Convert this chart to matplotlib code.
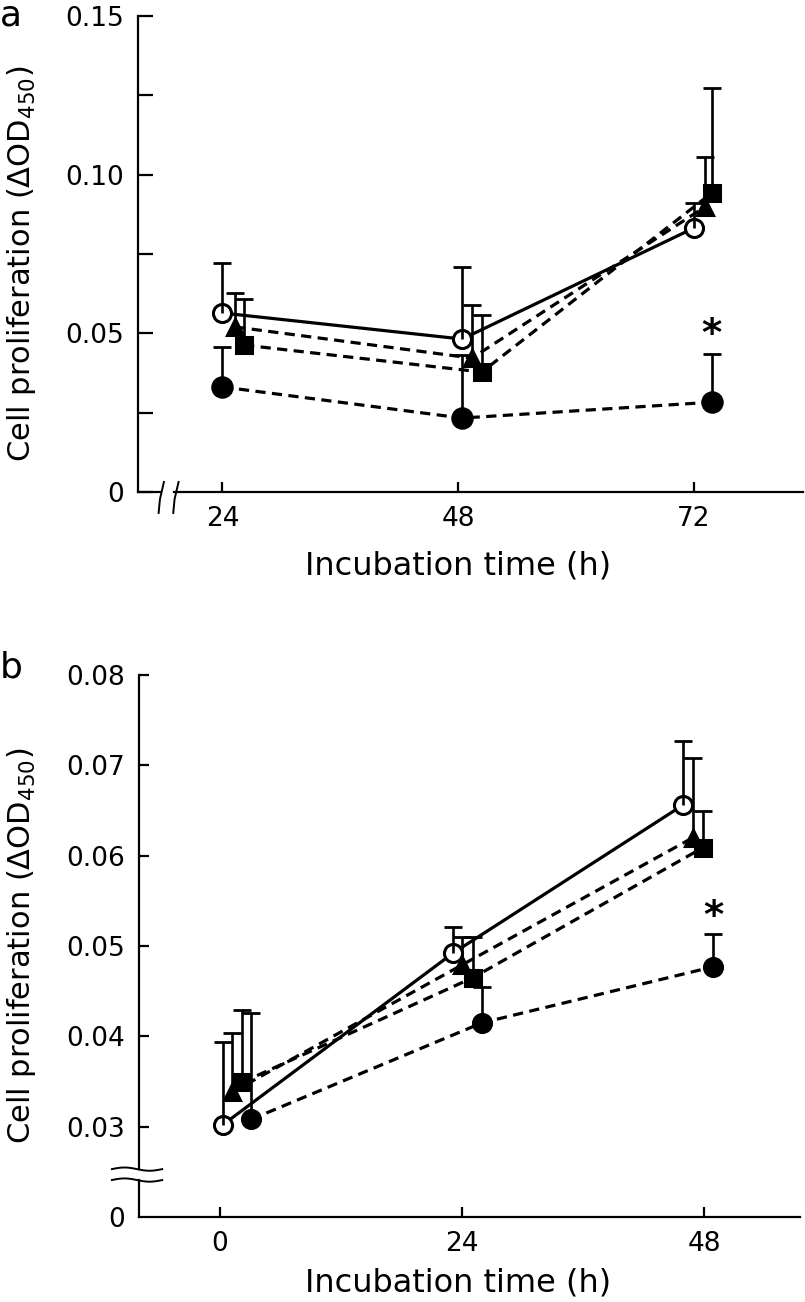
import matplotlib
matplotlib.use("Agg")
import matplotlib.pyplot as plt
import numpy as np

# --- data (mean, upper SD) ---
# panel a: 24 / 48 / 72 h
time_a = [24, 48, 72]
open_a = [0.0564, 0.0482, 0.0832]
open_a_err = [0.0157, 0.0227, 0.0078]
tri_a = [0.0520, 0.0422, 0.0898]
tri_a_err = [0.0107, 0.0167, 0.0157]
sq_a = [0.0463, 0.0378, 0.0942]
sq_a_err = [0.0145, 0.0180, 0.0330]
dot_a = [0.0331, 0.0233, 0.0283]
dot_a_err = [0.0126, 0.0200, 0.0152]

# panel b: 0 / 24 / 48 h
time_b = [0, 24, 48]
open_b = [0.0302, 0.0492, 0.0656]
open_b_err = [0.0092, 0.0029, 0.0071]
tri_b = [0.0338, 0.0479, 0.0620]
tri_b_err = [0.0066, 0.0031, 0.0088]
sq_b = [0.0349, 0.0465, 0.0609]
sq_b_err = [0.0080, 0.0045, 0.0041]
dot_b = [0.0308, 0.0415, 0.0477]
dot_b_err = [0.0118, 0.0040, 0.0036]

# horizontal nudges (h) so the symbols do not sit on top of each other
nudge_a = {"open": [0, 0.4, 0], "tri": [1.3, 1.4, 1.1],
           "sq": [2.2, 2.4, 1.8], "dot": [0, 0.4, 1.8]}
nudge_b = {"open": [0.3, -0.9, -2.1], "tri": [1.2, 0, -1.1],
           "sq": [2.2, 1.1, -0.1], "dot": [3.1, 2.0, 0.9]}

plt.rcParams['font.family'] = ['DejaVu Sans']
W, H = 805, 1302
fig = plt.figure(figsize=(W / 100, H / 100), dpi=100)

LW = 2.3
DASH = (0, (3.2, 2.0))
TICK_FS = 19
XLABEL_FS = 23
YLABEL_FS = 22


def draw_series(ax, t, nudge, y, err, marker, face, ls, ms):
    x = np.array(t, dtype=float) + np.array(nudge)
    ax.plot(x, y, color='k', lw=LW, linestyle=ls, zorder=2)
    ax.plot(x, y, ls='none', marker=marker, mfc=face, mec='k', mew=2.2, ms=ms, zorder=3)
    eb = ax.errorbar(x, y, yerr=[np.zeros(len(y)), err], fmt='none', ecolor='k',
                     elinewidth=1.9, capsize=6.5, capthick=2.0, zorder=4)
    eb[1][0].set_visible(False)
    return x


def style_axes(ax):
    for s in ['top', 'right']:
        ax.spines[s].set_visible(False)
    for s in ['left', 'bottom']:
        ax.spines[s].set_linewidth(1.6)
    ax.tick_params(axis='both', which='both', direction='in', width=1.6,
                   labelsize=TICK_FS, pad=10)


# ---------------- panel a ----------------
ax1 = fig.add_axes([138 / W, 1 - 492 / H, 665 / W, 476 / H])
style_axes(ax1)
draw_series(ax1, time_a, nudge_a["open"], open_a, open_a_err, 'o', 'white', '-', 13)
draw_series(ax1, time_a, nudge_a["tri"], tri_a, tri_a_err, '^', 'black', DASH, 12)
draw_series(ax1, time_a, nudge_a["sq"], sq_a, sq_a_err, 's', 'black', DASH, 11)
xd = draw_series(ax1, time_a, nudge_a["dot"], dot_a, dot_a_err, 'o', 'black', DASH, 14)
ax1.text(xd[2], 0.0495, '*', ha='center', va='center', fontsize=28, fontweight='bold')

ax1.set_xlim(15.4, 83.1)
ax1.set_ylim(0, 0.15)
ax1.set_xticks(time_a)
ax1.set_yticks([0, 0.05, 0.10, 0.15])
ax1.set_yticklabels(['0', '0.05', '0.10', '0.15'])
ax1.set_yticks([0.025, 0.075, 0.125], minor=True)
ax1.tick_params(axis='y', which='both', length=11)
ax1.tick_params(axis='x', length=7)
# broken x axis near the origin
ax1.spines['bottom'].set_visible(False)
xt = ax1.transAxes
ax1.plot([0, 0.035], [0, 0], color='k', lw=1.6, transform=xt, clip_on=False)
ax1.plot([0.054, 1], [0, 0], color='k', lw=1.6, transform=xt, clip_on=False)
for x0 in (0.031, 0.053):
    ax1.plot([x0 + 0.008, x0 + 0.002, x0], [0.021, -0.015, -0.044], color='k', lw=1.4,
             transform=xt, clip_on=False)

fig.text(458 / W, 1 - 566 / H, 'Incubation time (h)', ha='center', va='center', fontsize=XLABEL_FS)
fig.text(22 / W, 1 - 264 / H, r'Cell proliferation ($\Delta$OD$_{450}$)', rotation=90,
         ha='center', va='center', fontsize=YLABEL_FS)
fig.text(0, 1 - 25 / H, 'a', ha='left', va='baseline', fontsize=26)

# ---------------- panel b ----------------
ax2 = fig.add_axes([139 / W, 1 - 1217 / H, 661 / W, 542 / H])
style_axes(ax2)
draw_series(ax2, time_b, nudge_b["open"], open_b, open_b_err, 'o', 'white', '-', 13)
draw_series(ax2, time_b, nudge_b["tri"], tri_b, tri_b_err, '^', 'black', DASH, 11)
draw_series(ax2, time_b, nudge_b["sq"], sq_b, sq_b_err, 's', 'black', DASH, 11)
xd = draw_series(ax2, time_b, nudge_b["dot"], dot_b, dot_b_err, 'o', 'black', DASH, 13)
ax2.text(xd[2], 0.0532, '*', ha='center', va='center', fontsize=28, fontweight='bold')

ax2.set_xlim(-8.0, 57.5)
ax2.set_ylim(0.02, 0.08)
ax2.set_xticks(time_b)
ax2.set_yticks([0.02, 0.03, 0.04, 0.05, 0.06, 0.07, 0.08])
ax2.set_yticklabels(['0', '0.03', '0.04', '0.05', '0.06', '0.07', '0.08'])
ax2.tick_params(axis='both', length=7)
ax2.yaxis.get_major_ticks()[0].tick1line.set_visible(False)
# broken y axis
ax2.spines['left'].set_visible(False)
yt = ax2.get_yaxis_transform()
ax2.plot([0, 0], [0.02, 0.02409], color='k', lw=1.6, transform=yt, clip_on=False)
ax2.plot([0, 0], [0.02530, 0.08], color='k', lw=1.6, transform=yt, clip_on=False)
wx = np.linspace(-0.041, 0.035, 40)
wave = 0.00018 * np.sin((wx + 0.041) / 0.076 * 2 * np.pi)
for y0 in (0.02409, 0.02530):
    ax2.plot(wx, y0 + wave, color='k', lw=1.4, transform=yt, clip_on=False)

fig.text(458 / W, 1 - 1283 / H, 'Incubation time (h)', ha='center', va='center', fontsize=XLABEL_FS)
fig.text(22 / W, 1 - 946 / H, r'Cell proliferation ($\Delta$OD$_{450}$)', rotation=90,
         ha='center', va='center', fontsize=YLABEL_FS)
fig.text(0, 1 - 678 / H, 'b', ha='left', va='baseline', fontsize=26)

fig.savefig('out.png', dpi=100)
